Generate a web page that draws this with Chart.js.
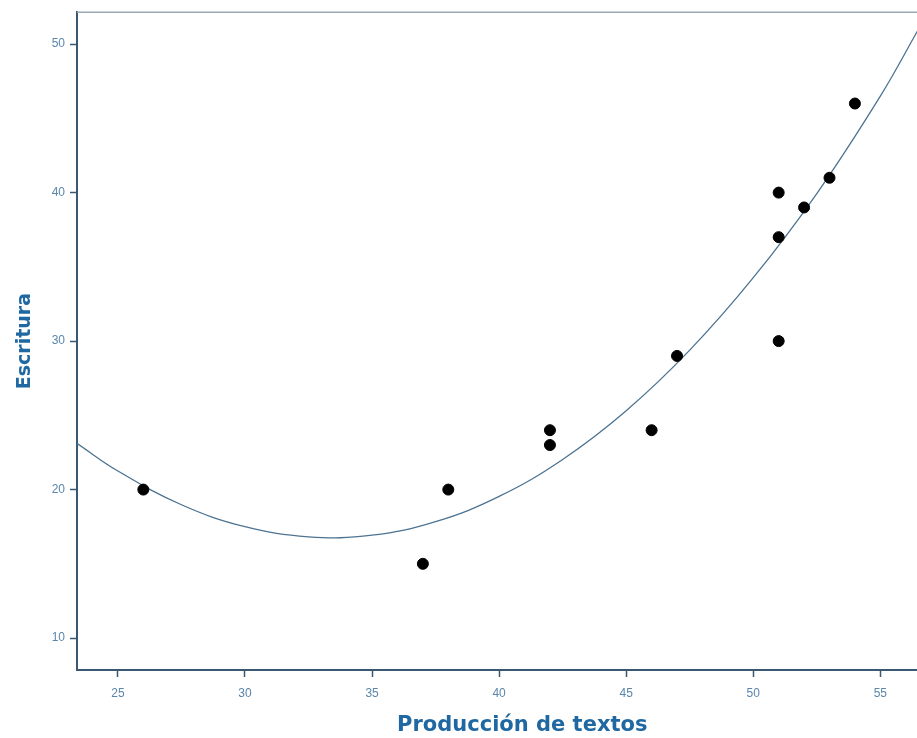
<!DOCTYPE html>
<html lang="es">
<head>
<meta charset="UTF-8">
<title>Escritura vs Producción de textos</title>
<script src="https://cdn.jsdelivr.net/npm/chart.js"></script>
<style>
    html, body {
        margin: 0;
        padding: 0;
        background: #ffffff;
        overflow: hidden;
    }
    /* the original figure is cropped on the right, so the canvas is a bit wider than the window */
    .wrap {
        width: 917px;
        height: 738px;
        overflow: hidden;
    }
</style>
</head>
<body>
<div class="wrap">
    <canvas id="scatter" width="974" height="738"></canvas>
</div>
<script>
    // observed values
    const produccion = [26, 37, 38, 42, 42, 46, 47, 51, 51, 51, 52, 53, 54];
    const escritura  = [20, 15, 20, 24, 23, 24, 29, 40, 37, 30, 39, 41, 46];

    // quadratic fit line
    const fitX = [23.4, 25, 27.5, 30, 32.5, 35, 37.5, 40, 42.5, 45, 47.5, 50, 52.5, 55, 56.5];
    const fitY = [23.1, 21.25, 18.98, 17.5, 16.82, 16.93, 17.84, 19.54, 22.03, 25.31, 29.39, 34.27, 39.94, 46.5, 51.0];

    const xTicks = [25, 30, 35, 40, 45, 50, 55];
    const yTicks = [10, 20, 30, 40, 50];

    const axisColor = '#3b5873';
    const tickColor = '#5a86ab';
    const titleColor = '#1f68a2';

    // thin frame line along the top of the plot
    const topBorder = {
        id: 'topBorder',
        afterDraw(chart) {
            const { ctx, chartArea } = chart;
            ctx.save();
            ctx.strokeStyle = '#9aa9b6';
            ctx.lineWidth = 1.5;
            ctx.beginPath();
            ctx.moveTo(chartArea.left, chartArea.top);
            ctx.lineTo(chartArea.right, chartArea.top);
            ctx.stroke();
            ctx.restore();
        }
    };

    new Chart(document.getElementById('scatter'), {
        type: 'scatter',
        data: {
            datasets: [
                {
                    label: 'Observado',
                    data: produccion.map((x, i) => ({ x: x, y: escritura[i] })),
                    backgroundColor: '#000000',
                    borderColor: '#000000',
                    pointRadius: 5.5,
                    order: 0
                },
                {
                    label: 'Cuadrático',
                    data: fitX.map((x, i) => ({ x: x, y: fitY[i] })),
                    showLine: true,
                    pointRadius: 0,
                    borderColor: '#4d7391',
                    borderWidth: 1.3,
                    tension: 0.4,
                    order: 1
                }
            ]
        },
        options: {
            responsive: false,
            animation: false,
            layout: { padding: { left: 0, right: 0, top: 12, bottom: 0 } },
            plugins: {
                legend: { display: false },
                tooltip: { enabled: false }
            },
            scales: {
                x: {
                    type: 'linear',
                    min: 23.39,
                    max: 58.43,
                    afterBuildTicks: (scale) => { scale.ticks = xTicks.map(v => ({ value: v })); },
                    afterFit: (scale) => { scale.height = 68; },
                    grid: {
                        drawOnChartArea: false,
                        drawTicks: true,
                        tickLength: 7,
                        tickWidth: 1.5,
                        tickColor: axisColor
                    },
                    border: { color: axisColor, width: 2 },
                    ticks: {
                        color: tickColor,
                        padding: 9,
                        maxRotation: 0,
                        font: { family: 'Liberation Sans, Arial, sans-serif', size: 12 }
                    },
                    title: {
                        display: true,
                        text: 'Producción de textos',
                        color: titleColor,
                        padding: { top: 0, bottom: 0 },
                        font: { family: 'DejaVu Sans, sans-serif', size: 21, weight: 'bold' }
                    }
                },
                y: {
                    type: 'linear',
                    min: 7.85,
                    max: 52.15,
                    afterBuildTicks: (scale) => { scale.ticks = yTicks.map(v => ({ value: v })); },
                    afterFit: (scale) => { scale.width = 77; },
                    grid: {
                        drawOnChartArea: false,
                        drawTicks: true,
                        tickLength: 7,
                        tickWidth: 1.5,
                        tickColor: axisColor
                    },
                    border: { color: axisColor, width: 2 },
                    ticks: {
                        color: tickColor,
                        padding: 5,
                        font: { family: 'Liberation Sans, Arial, sans-serif', size: 12 }
                    },
                    title: {
                        display: true,
                        text: 'Escritura',
                        color: titleColor,
                        padding: { top: 14, bottom: 0 },
                        font: { family: 'DejaVu Sans, sans-serif', size: 19, weight: 'bold' }
                    }
                }
            }
        },
        plugins: [topBorder]
    });
</script>
</body>
</html>
